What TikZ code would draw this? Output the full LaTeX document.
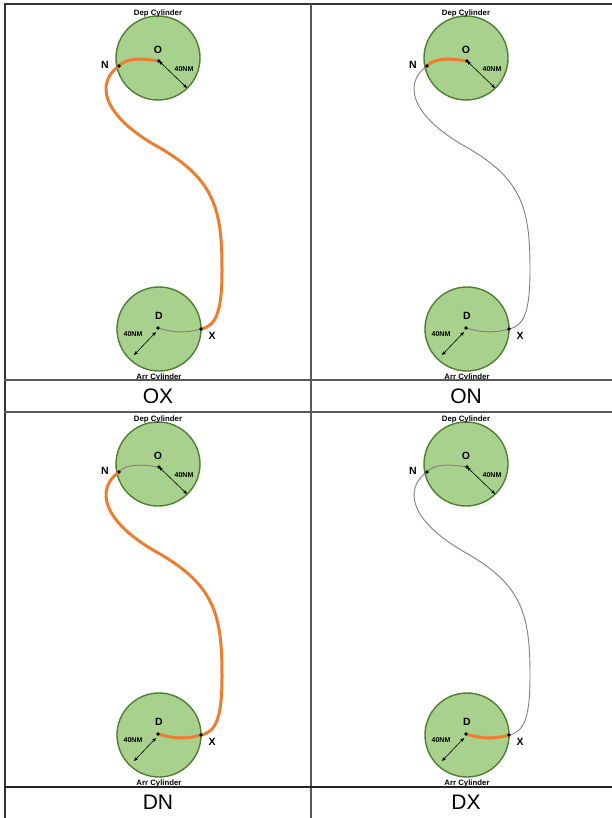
\documentclass[tikz,border=0pt]{standalone}
\usepackage{fontspec}
\setmainfont{Liberation Sans}
\usetikzlibrary{arrows.meta}
\definecolor{cylfill}{HTML}{A9D18E}
\definecolor{cylborder}{HTML}{507E32}
\definecolor{orangeC}{HTML}{ED7D31}
\definecolor{grayC}{HTML}{7F7F7F}
\definecolor{gridC}{HTML}{595959}
\begin{document}
\begin{tikzpicture}[x=1pt,y=-1pt,
  cyl/.style={circle, draw=cylborder, fill=cylfill, line width=1.4pt, minimum size=84pt, inner sep=0pt},
  dotpt/.style={circle, fill=black, inner sep=0pt, minimum size=3.8pt},
  ptlabel/.style={font=\bfseries\fontsize{10.5}{10.5}\selectfont, inner sep=0pt},
  nmlabel/.style={font=\bfseries\fontsize{7}{7}\selectfont, inner sep=0pt},
  cyllabel/.style={font=\bfseries\fontsize{7.8}{7.8}\selectfont, inner sep=0pt},
  caselabel/.style={font=\fontsize{21}{21}\selectfont, inner sep=0pt},
  orangepath/.style={draw=orangeC, line width=3pt},
  graypath/.style={draw=grayC, line width=0.9pt},
  radius arrow/.style={{Stealth[length=4pt,width=3.4pt]}-{Stealth[length=4pt,width=3.4pt]}, line width=0.6pt},
  gridline/.style={draw=gridC, line width=1.4pt}
]
\useasboundingbox (0,0) rectangle (612,818);
% panels
\foreach \i/\dx/\dy/\on/\nx/\xd/\lab in {
  1/0/0/orangepath/orangepath/graypath/OX,
  2/308/0/orangepath/graypath/graypath/ON,
  3/0/406/graypath/orangepath/orangepath/DN,
  4/308/406/graypath/graypath/orangepath/DX}{
\begin{scope}[shift={(\dx,\dy)}]
  \node[cyl] (dep\i) at (158,58) {};
  \node[cyl] (arr\i) at (159,329) {};
  \node[cyllabel] (deplab\i) at (158,13) {Dep Cylinder};
  \node[cyllabel] (arrlab\i) at (159,377) {Arr Cylinder};
  \coordinate (O\i) at (159,61);
  \coordinate (N\i) at (119,66);
  \coordinate (D\i) at (158,328);
  \coordinate (X\i) at (201,329);
  \coordinate (ra\i) at (187,88);
  \coordinate (rb\i) at (156,332);
  \coordinate (rc\i) at (134,355);
  % radius arrows
  \draw[radius arrow] (O\i) -- (ra\i);
  \draw[radius arrow] (rb\i) -- (rc\i);
  % route segments
  \draw[\on] (O\i) .. controls (140,58) and (126,58) .. (N\i);
  \draw[\nx] (N\i) .. controls (96,82) and (100,115) .. (160,148)
                 .. controls (215,180) and (222,210) .. (222,270)
                 .. controls (222,312) and (216,326) .. (X\i);
  \draw[\xd] (D\i) .. controls (178,334) and (190,332) .. (X\i);
  % points
  \node[dotpt] (Odot\i) at (O\i) {};
  \node[dotpt] (Ndot\i) at (N\i) {};
  \node[dotpt] (Ddot\i) at (D\i) {};
  \node[dotpt] (Xdot\i) at (X\i) {};
  \node[ptlabel] (Olab\i) at (158,50) {O};
  \node[ptlabel] (Nlab\i) at (105,65) {N};
  \node[ptlabel] (Dlab\i) at (159,316) {D};
  \node[ptlabel] (Xlab\i) at (212,336) {X};
  \node[nmlabel] (nma\i) at (184,69) {40NM};
  \node[nmlabel] (nmb\i) at (133,334) {40NM};
  \node[caselabel] (case\i) at (158,396) {\lab};
\end{scope}}
% table grid
\draw[gridline, line width=2pt, draw=black!80] (4.5,3.5) -- (4.5,818);
\draw[gridline, line width=2pt, draw=black!80] (3.5,4.5) -- (612,4.5);
\draw[gridline] (311,4) -- (311,818);
\draw[gridline] (4,380) -- (612,380);
\draw[gridline] (4,412) -- (612,412);
\draw[gridline, draw=black!85, line width=1.2pt] (4,787) -- (612,787);
\end{tikzpicture}
\end{document}
